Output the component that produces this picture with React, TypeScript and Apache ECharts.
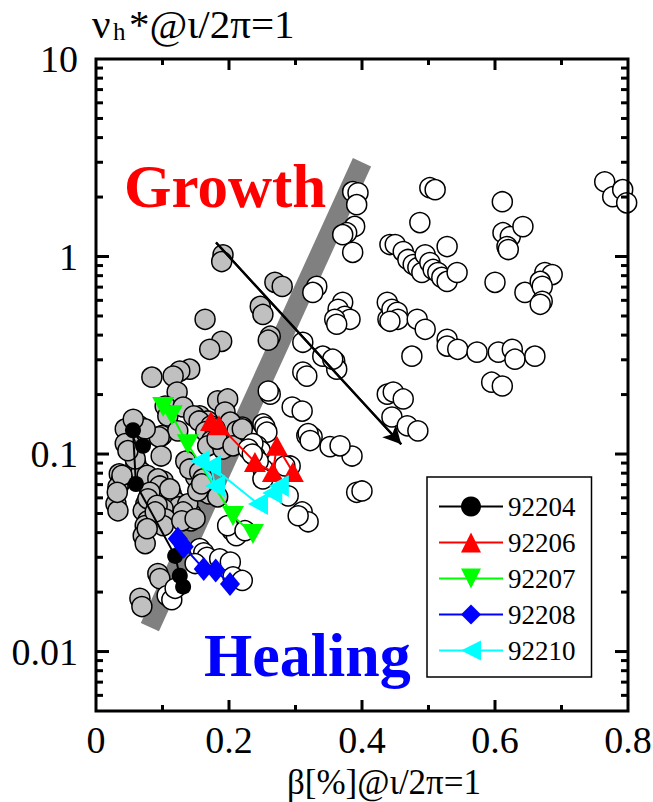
import React, { useEffect, useRef } from 'react';
import * as echarts from 'echarts';

const FONT = 'Liberation Serif';

// Axis ticks and labels
const xTickLabels = ['0', '0.2', '0.4', '0.6', '0.8'];
const yTickLabels = ['0.01', '0.1', '1', '10'];
const xMajorTicks = [0.2, 0.4, 0.6];
const xMinorTicks = [0.1, 0.3, 0.5, 0.7];
const yMajorTicks = [0.01, 0.1, 1];
const yMinorTicks = [
  0.006, 0.007, 0.008, 0.009,
  0.02, 0.03, 0.04, 0.05, 0.06, 0.07, 0.08, 0.09,
  0.2, 0.3, 0.4, 0.5, 0.6, 0.7, 0.8, 0.9,
  2, 3, 4, 5, 6, 7, 8, 9,
];

// Gray (filled) database points
const grayPoints: [number, number][] = [
  [0.191, 1.02], [0.189, 0.943], [0.164, 0.481], [0.269, 0.74], [0.28, 0.706], [0.247, 0.559],
  [0.251, 0.509], [0.262, 0.395], [0.259, 0.377], [0.189, 0.372], [0.171, 0.339], [0.084, 0.245],
  [0.141, 0.269], [0.126, 0.263], [0.116, 0.248], [0.122, 0.206], [0.183, 0.186], [0.198, 0.19],
  [0.194, 0.163], [0.156, 0.156], [0.149, 0.154], [0.168, 0.147], [0.22, 0.137], [0.202, 0.145],
  [0.212, 0.131], [0.104, 0.175], [0.108, 0.156], [0.099, 0.124], [0.123, 0.131], [0.056, 0.142],
  [0.065, 0.139], [0.078, 0.126], [0.053, 0.116], [0.044, 0.134], [0.095, 0.122], [0.098, 0.0977],
  [0.06, 0.089], [0.035, 0.0793], [0.038, 0.073], [0.033, 0.068], [0.068, 0.081], [0.101, 0.073],
  [0.105, 0.065], [0.113, 0.0628], [0.083, 0.0706], [0.12, 0.0573], [0.125, 0.054], [0.03, 0.0559],
  [0.033, 0.0516], [0.075, 0.0559], [0.071, 0.0516], [0.101, 0.0528], [0.095, 0.0487], [0.078, 0.0459],
  [0.131, 0.173], [0.147, 0.156], [0.155, 0.147], [0.173, 0.139], [0.165, 0.13], [0.183, 0.124],
  [0.135, 0.092], [0.15, 0.0765], [0.158, 0.0689], [0.161, 0.0651], [0.17, 0.0628], [0.183, 0.0607],
  [0.143, 0.0498], [0.143, 0.0459], [0.138, 0.0559], [0.179, 0.134], [0.174, 0.117], [0.168, 0.11],
  [0.186, 0.116], [0.191, 0.106], [0.141, 0.084], [0.156, 0.081], [0.161, 0.0748], [0.153, 0.065],
  [0.159, 0.0706], [0.039, 0.078], [0.032, 0.064], [0.077, 0.078], [0.093, 0.0748], [0.096, 0.0689],
  [0.111, 0.0666], [0.081, 0.064], [0.078, 0.0593], [0.092, 0.055], [0.131, 0.0509], [0.074, 0.0434],
  [0.071, 0.0386], [0.074, 0.0352], [0.104, 0.047], [0.101, 0.0434], [0.093, 0.0248], [0.096, 0.0234],
  [0.066, 0.0186], [0.069, 0.0169], [0.044, 0.113], [0.059, 0.0944], [0.089, 0.0509], [0.077, 0.0419],
  [0.129, 0.0459], [0.149, 0.047], [0.074, 0.134], [0.056, 0.15], [0.048, 0.104], [0.182, 0.119],
  [0.206, 0.11], [0.22, 0.134],
];

// White (open) database points
const whitePoints: [number, number][] = [
  [0.107, 0.0192], [0.114, 0.0183], [0.119, 0.0209], [0.156, 0.0332], [0.162, 0.0316], [0.167, 0.03],
  [0.149, 0.0279], [0.186, 0.0295], [0.202, 0.0284], [0.206, 0.0239], [0.22, 0.0229], [0.205, 0.0409],
  [0.211, 0.0386], [0.198, 0.0434], [0.224, 0.0409], [0.31, 0.0509], [0.319, 0.0454], [0.289, 0.0614],
  [0.274, 0.0765], [0.292, 0.087], [0.251, 0.084], [0.262, 0.201], [0.295, 0.173], [0.31, 0.165],
  [0.317, 0.124], [0.325, 0.122], [0.251, 0.142], [0.254, 0.137], [0.257, 0.129], [0.242, 0.11],
  [0.247, 0.104], [0.239, 0.0977], [0.244, 0.092], [0.352, 0.109], [0.385, 0.0977], [0.392, 0.064],
  [0.4, 0.065], [0.438, 0.201], [0.447, 0.206], [0.462, 0.19], [0.445, 0.154], [0.468, 0.139],
  [0.484, 0.131], [0.367, 0.11], [0.386, 2.13], [0.394, 2.1], [0.392, 1.83], [0.389, 1.42],
  [0.377, 1.32], [0.371, 1.29], [0.386, 1.05], [0.332, 0.706], [0.326, 0.658], [0.311, 0.368],
  [0.341, 0.313], [0.359, 0.295], [0.362, 0.269], [0.311, 0.26], [0.317, 0.248], [0.371, 0.586],
  [0.364, 0.54], [0.374, 0.498], [0.382, 0.481], [0.359, 0.481], [0.362, 0.454], [0.442, 1.15],
  [0.438, 0.586], [0.439, 0.481], [0.445, 0.54], [0.453, 0.522], [0.454, 0.481], [0.442, 0.47],
  [0.483, 0.481], [0.495, 0.428], [0.528, 0.381], [0.528, 0.352], [0.544, 0.339], [0.573, 0.328],
  [0.605, 0.328], [0.626, 0.339], [0.63, 0.302], [0.66, 0.313], [0.475, 0.313], [0.595, 0.231],
  [0.611, 0.221], [0.356, 0.302], [0.502, 2.23], [0.51, 2.18], [0.487, 1.485], [0.45, 1.15],
  [0.462, 1.06], [0.469, 0.966], [0.477, 0.911], [0.484, 0.88], [0.49, 0.83], [0.495, 1.02],
  [0.502, 0.932], [0.507, 0.86], [0.514, 0.83], [0.52, 0.784], [0.528, 0.748], [0.528, 1.123],
  [0.543, 0.83], [0.611, 1.894], [0.612, 1.32], [0.623, 1.262], [0.618, 1.123], [0.62, 1.085],
  [0.642, 1.417], [0.6, 0.74], [0.645, 0.658], [0.675, 0.83], [0.686, 0.81], [0.668, 0.748],
  [0.671, 0.706], [0.671, 0.593], [0.668, 0.573], [0.765, 2.39], [0.777, 2.008], [0.792, 2.18],
  [0.798, 1.87], [0.259, 0.2085], [0.319, 0.127], [0.322, 0.117], [0.236, 0.113], [0.229, 0.106],
  [0.235, 0.1], [0.251, 0.0748], [0.284, 0.087], [0.304, 0.0487],
];

// Discharge trajectories
const shot92204: [number, number][] = [
  [0.0707, 0.11], [0.0556, 0.132], [0.06, 0.0705], [0.119, 0.0305], [0.126, 0.0242], [0.131, 0.0213],
];
const shot92206: [number, number][] = [
  [0.173, 0.147], [0.185, 0.14], [0.239, 0.091], [0.266, 0.081], [0.272, 0.11], [0.296, 0.081],
];
const shot92207: [number, number][] = [
  [0.101, 0.173], [0.114, 0.157], [0.138, 0.112], [0.206, 0.0486], [0.236, 0.0394],
];
const shot92208: [number, number][] = [
  [0.123, 0.0372], [0.132, 0.0339], [0.162, 0.0262], [0.18, 0.0257], [0.2015, 0.022],
];
const shot92210: [number, number][] = [
  [0.156, 0.0922], [0.179, 0.0689], [0.173, 0.0869], [0.2436, 0.0559], [0.265, 0.0635], [0.275, 0.0689],
];

// Boundary band and trend arrow
const bandEnds: [number, number][] = [[0.081, 0.0133], [0.4, 3.0]];
const arrowEnds: [number, number][] = [[0.1805, 1.177], [0.459, 0.112]];

export default function App() {
  const ref = useRef<HTMLDivElement>(null);

  useEffect(() => {
    document.body.style.margin = '0';
    if (!ref.current) return;
    const chart = echarts.init(ref.current, null, { renderer: 'svg', width: 653, height: 802 });

    const tickData: number[][] = [
      ...xMajorTicks.map((v) => [v, 1, 1, 0]),
      ...xMinorTicks.map((v) => [v, 1, 0, 0]),
      ...yMajorTicks.map((v) => [0.4, v, 1, 1]),
      ...yMinorTicks.map((v) => [0.4, v, 0, 1]),
      [0.4, 1, 0, 2],
    ];

    const lineSeries = (
      name: string,
      data: [number, number][],
      color: string,
      symbol: string,
      size: number | number[],
      rotate: number,
    ) => ({
      type: 'line',
      name,
      data,
      symbol,
      symbolSize: size,
      symbolRotate: rotate,
      showSymbol: true,
      itemStyle: { color, borderWidth: 0 },
      lineStyle: { color, width: 2 },
      z: 6,
      silent: true,
    });

    const txt = (text: string, x: number, y: number, size: number, extra: any = {}) => ({
      type: 'text',
      x,
      y,
      z: 10,
      style: {
        text,
        fill: '#000',
        fontFamily: FONT,
        fontSize: size,
        align: 'left',
        verticalAlign: 'middle',
        ...extra,
      },
    });

    const option: any = {
      animation: false,
      backgroundColor: '#fff',
      textStyle: { fontFamily: FONT },
      grid: {
        left: 96,
        right: 25,
        top: 59,
        bottom: 91,
        containLabel: false,
        outerBoundsMode: 'none',
        show: false,
      },
      xAxis: {
        type: 'value',
        min: 0,
        max: 0.8,
        interval: 0.2,
        axisLine: { show: false },
        axisTick: { show: false },
        splitLine: { show: false },
        axisLabel: {
          fontFamily: FONT,
          fontSize: 38,
          lineHeight: 30,
          color: '#000',
          margin: 14,
          formatter: (v: number) => xTickLabels[Math.round(v / 0.2)] ?? '',
        },
      },
      yAxis: {
        type: 'log',
        logBase: 10,
        min: 0.005,
        max: 10,
        axisLine: { show: false },
        axisTick: { show: false },
        splitLine: { show: false },
        minorTick: { show: false },
        axisLabel: {
          fontFamily: FONT,
          fontSize: 38,
          color: '#000',
          margin: 18,
          formatter: (v: number) => {
            const l = Math.log10(v);
            const r = Math.round(l);
            if (Math.abs(l - r) > 1e-6) return '';
            return yTickLabels[r + 2] ?? '';
          },
        },
      },
      legend: {
        data: ['92204', '92206', '92207', '92208', '92210'],
        orient: 'vertical',
        left: 427,
        top: 477,
        itemWidth: 64,
        itemHeight: 25,
        itemGap: 9,
        padding: [16, 16, 13, 11],
        borderColor: '#000',
        borderWidth: 1.5,
        borderRadius: 0,
        backgroundColor: '#fff',
        selectedMode: false,
        textStyle: { fontFamily: FONT, fontSize: 27, color: '#000', lineHeight: 25 },
      },
      graphic: [
        txt('Growth', 124, 186, 61, { fill: '#ff0000', fontWeight: 'bold' }),
        txt('Healing', 204, 655, 62, { fill: '#0000ff', fontWeight: 'bold' }),
        txt('ν', 92, 24, 41),
        txt('h', 113, 31, 25),
        txt('*@ι/2π=1', 129, 24, 41),
        txt('β[%]@ι/2π=1', 384, 782, 35, { align: 'center' }),
      ],
      series: [
        {
          type: 'line',
          name: 'band',
          data: bandEnds,
          symbol: 'none',
          lineStyle: { color: '#808080', width: 20, cap: 'butt' },
          z: 1,
          silent: true,
        },
        {
          type: 'scatter',
          name: 'gray',
          data: grayPoints,
          symbol: 'circle',
          symbolSize: 20,
          itemStyle: { color: '#c0c0c0', borderColor: '#000', borderWidth: 1.5, opacity: 1 },
          z: 2,
          silent: true,
        },
        {
          type: 'scatter',
          name: 'white',
          data: whitePoints,
          symbol: 'circle',
          symbolSize: 20,
          itemStyle: { color: '#ffffff', borderColor: '#000', borderWidth: 1.5, opacity: 1 },
          z: 3,
          silent: true,
        },
        {
          type: 'line',
          name: 'arrow',
          data: arrowEnds,
          symbol: 'none',
          lineStyle: { color: '#000', width: 2.2 },
          z: 4,
          silent: true,
          markLine: {
            silent: true,
            symbol: ['none', 'arrow'],
            symbolSize: [14, 18],
            label: { show: false },
            lineStyle: { color: '#000', width: 2.2, type: 'solid' },
            data: [[{ coord: arrowEnds[0] }, { coord: arrowEnds[1] }]],
          },
        },
        lineSeries('92204', shot92204, '#000000', 'circle', 16, 0),
        lineSeries('92206', shot92206, '#ff0000', 'triangle', [22, 20], 0),
        lineSeries('92207', shot92207, '#00ff00', 'triangle', [22, 20], 180),
        lineSeries('92208', shot92208, '#0000ff', 'diamond', [20, 24], 0),
        lineSeries('92210', shot92210, '#00ffff', 'triangle', [22, 20], 90),
        {
          type: 'custom',
          name: 'frame',
          coordinateSystem: 'cartesian2d',
          encode: { x: 0, y: 1 },
          data: tickData,
          z: 9,
          silent: true,
          renderItem: (params: any, api: any) => {
            const cs = params.coordSys;
            const kind = api.value(3);
            const major = api.value(2) === 1;
            const style = { stroke: '#000', lineWidth: 3, fill: null };
            if (kind === 2) {
              return {
                type: 'rect',
                shape: { x: cs.x, y: cs.y, width: cs.width, height: cs.height },
                style: { stroke: '#000', lineWidth: 3, fill: 'none' },
              };
            }
            if (kind === 0) {
              const px = api.coord([api.value(0), 1])[0];
              const len = major ? 11 : 6;
              const b = cs.y + cs.height;
              const t = cs.y;
              return {
                type: 'group',
                children: [
                  { type: 'line', shape: { x1: px, y1: b, x2: px, y2: b - len }, style },
                  { type: 'line', shape: { x1: px, y1: t, x2: px, y2: t + len }, style },
                ],
              };
            }
            const py = api.coord([0.4, api.value(1)])[1];
            const len = major ? 13 : 7;
            const l = cs.x;
            const r = cs.x + cs.width;
            return {
              type: 'group',
              children: [
                { type: 'line', shape: { x1: l, y1: py, x2: l + len, y2: py }, style },
                { type: 'line', shape: { x1: r, y1: py, x2: r - len, y2: py }, style },
              ],
            };
          },
        },
      ],
    };

    chart.setOption(option);
    return () => chart.dispose();
  }, []);

  return (
    <div
      ref={ref}
      style={{ position: 'fixed', left: 0, top: 0, width: 653, height: 802, background: '#fff' }}
    />
  );
}
